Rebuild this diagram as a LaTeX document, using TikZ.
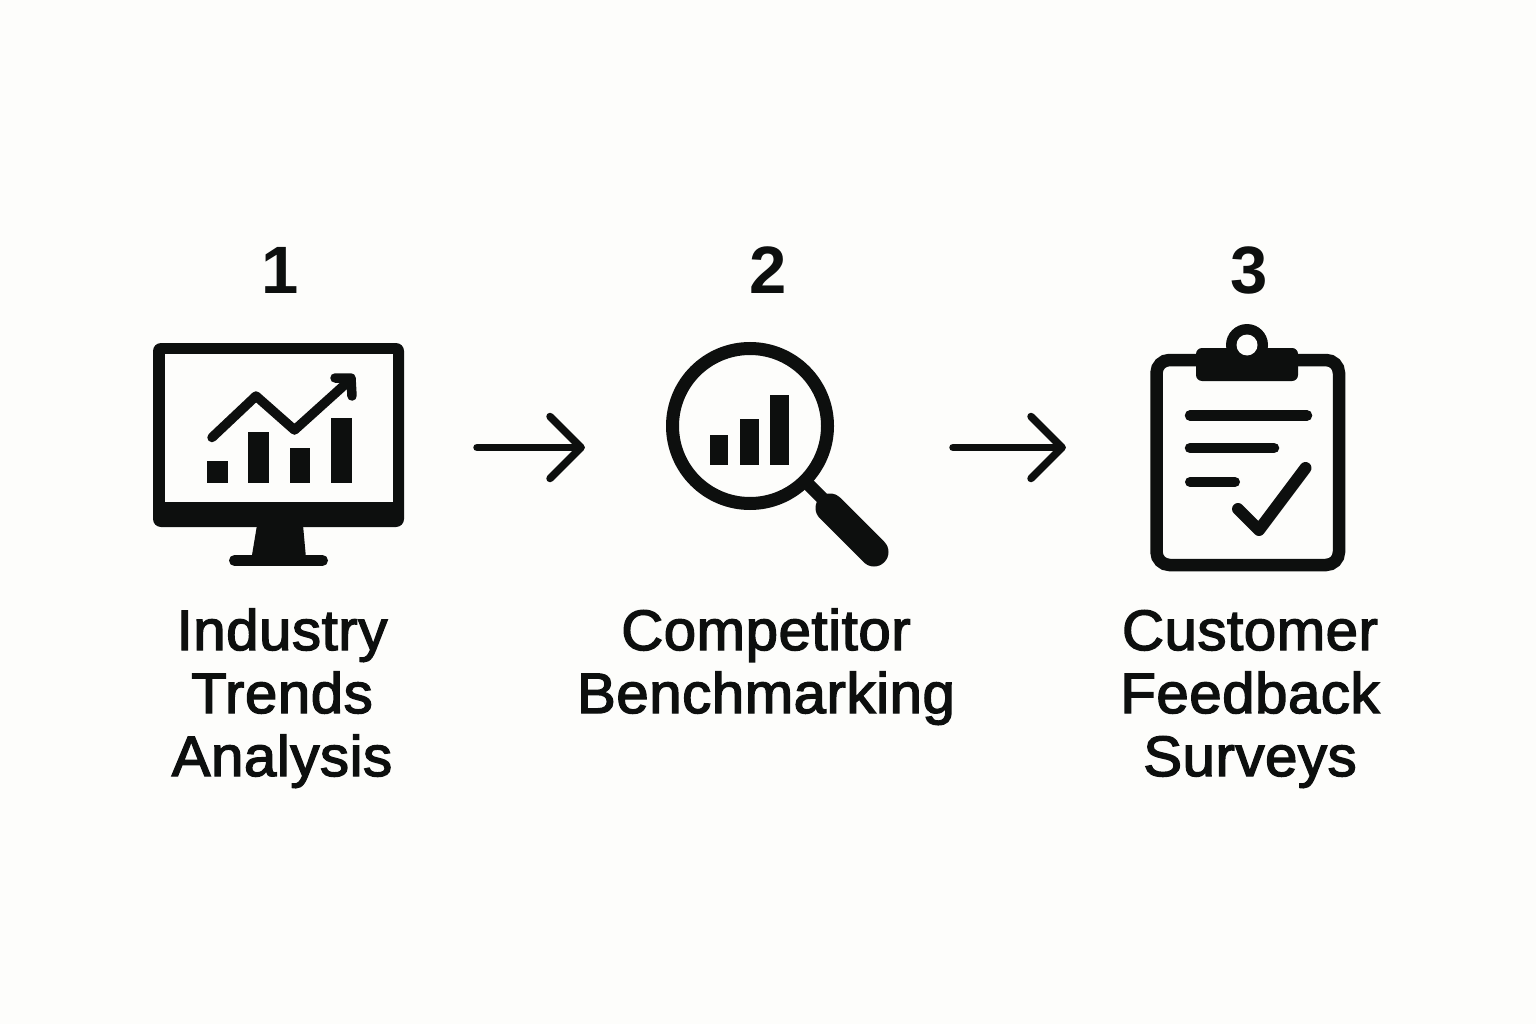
\documentclass[tikz,border=0pt]{standalone}
\usepackage{fontspec}
\usetikzlibrary{calc}
\setmainfont{Liberation Sans}[FakeBold=2.5,FakeStretch=1.02,LetterSpace=1]
\newfontfamily\numfont{Liberation Sans Bold}
\definecolor{ink}{HTML}{0D0F0E}
\definecolor{paper}{HTML}{FDFDFB}
\tikzset{
  ink line/.style={draw=ink,line cap=round,line join=round,fill=none},
  arrowline/.style={ink line,line width=7.5},
  label/.style={text=ink,align=center,font=\fontsize{57}{63}\selectfont,inner sep=0pt},
  num/.style={text=ink,font=\numfont\fontsize{67}{67}\selectfont,inner sep=0pt,anchor=base},
}
\begin{document}
\begin{tikzpicture}[x=1pt,y=-1pt]
\path[use as bounding box,fill=paper] (0,0) rectangle (1536,1024);
% numbers
\node[num] (n1) at (280,294) {1};
\node[num] (n2) at (768,294) {2};
\node[num] (n3) at (1249,294) {3};
% monitor
\fill[ink,rounded corners=8] (153,343) rectangle (404,527);
\fill[paper] (165,353.5) rectangle (392.5,502);
\fill[ink] (257,525) -- (303,525) -- (306,558) -- (251.5,558) -- cycle;
\draw[ink line,line width=11] (234.5,560.5) -- (322.5,560.5);
\fill[ink] (207,461) rectangle (228,483);
\fill[ink] (248,432) rectangle (269,483);
\fill[ink] (289.5,448) rectangle (310,483);
\fill[ink] (330.5,418) rectangle (351.5,483);
\draw[ink line,line width=9.5] (212,437.5) -- (256,396) -- (294.5,430) -- (350,380);
\draw[ink line,line width=9.5] (335,378) -- (351,378) -- (352,396);
% magnifier
\draw[draw=ink,line width=13] (750,426) circle[radius=77.5];
\draw[draw=ink,line width=13] (806,482) -- (832,508);
\draw[ink line,line width=29] (830,508) -- (874,552);
\fill[ink] (710,435) rectangle (728,465);
\fill[ink] (739.5,419) rectangle (759,465);
\fill[ink] (770,395) rectangle (789,465);
% clipboard
\draw[draw=ink,line width=12.5,rounded corners=13] (1156.5,360) rectangle (1339,565);
\fill[ink,rounded corners=6] (1196,348) rectangle (1298,381);
\fill[ink] (1247,345) circle[radius=21];
\fill[paper] (1247,345) circle[radius=10.5];
\draw[ink line,line width=10.5] (1190,415.5) -- (1307,415.5);
\draw[ink line,line width=10.5] (1190,448) -- (1274,448);
\draw[ink line,line width=10] (1190,482) -- (1235,482);
\draw[ink line,line width=12] (1238,509) -- (1259,530) -- (1305.5,468);
% arrows
\coordinate (a1s) at (477,447.5);
\coordinate (a1e) at (581,447.5);
\coordinate (a2s) at (953,447.5);
\coordinate (a2e) at (1062,447.5);
\draw[arrowline] (a1s) -- (a1e);
\draw[arrowline] ($(a1e)+(-31,-31)$) -- (a1e) -- ($(a1e)+(-31,31)$);
\draw[arrowline] (a2s) -- (a2e);
\draw[arrowline] ($(a2e)+(-31,-31)$) -- (a2e) -- ($(a2e)+(-31,31)$);
% labels
\node[label,anchor=base] (l1) at (282,776) {Industry\\Trends\\Analysis};
\node[label,anchor=base] (l2) at (766,713) {Competitor\\Benchmarking};
\node[label,anchor=base] (l3) at (1250,776) {Customer\\Feedback\\Surveys};
\end{tikzpicture}
\end{document}
